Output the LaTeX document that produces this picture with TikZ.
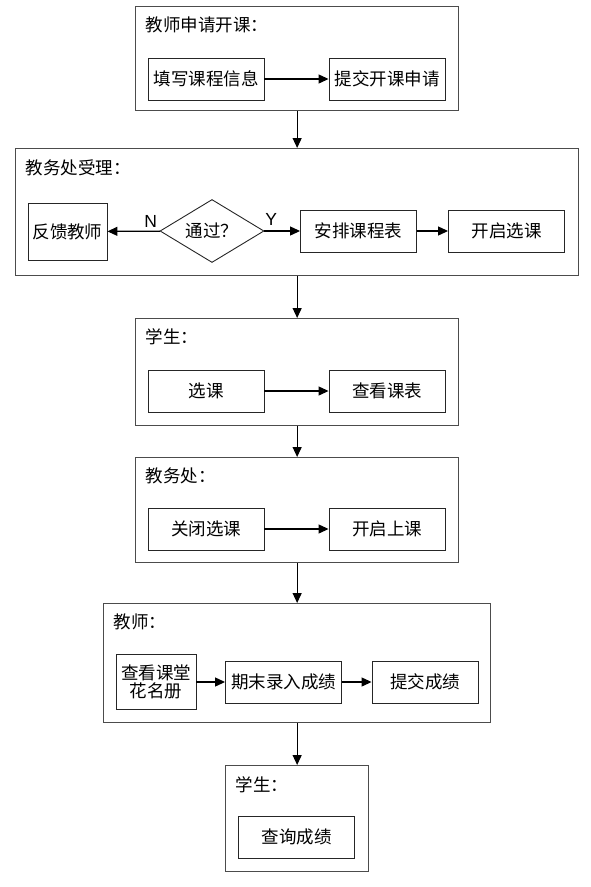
\documentclass[tikz,border=0pt]{standalone}
\usepackage{fontspec}
\setmainfont{Noto Sans CJK SC}
\newfontfamily\latinfont{Liberation Sans}
\usetikzlibrary{arrows.meta,shapes.geometric,positioning}
\tikzset{every picture/.style={>={Triangle[length=10pt,width=9pt]},line width=1.2pt}}
\tikzstyle{stage} =
  [ rectangle
  , draw=black!70
  , line width=1.3pt
  , anchor=north west
  , inner sep=0pt
  ]
\tikzstyle{stage_title} =
  [ anchor=west
  , inner sep=0pt
  ]
\tikzstyle{task} =
  [ rectangle
  , draw=black!85
  , line width=0.9pt
  , minimum width=116pt
  , minimum height=42pt
  , inner sep=0pt
  ]
\tikzstyle{decision} =
  [ diamond
  , draw=black!85
  , line width=0.9pt
  , minimum width=104pt
  , minimum height=63pt
  , inner sep=0pt
  ]

\begin{document}
\begin{tikzpicture}[x=1pt,y=-1pt,font=\fontsize{17.5}{21}\selectfont]
    \useasboundingbox (0,0) rectangle (590,887);

    % teacher applies for a course
    \node[stage,minimum width=323pt,minimum height=104pt] (teacher_apply) at (135,6) {};
    \node[stage_title] (teacher_apply_title) at (145,25) {教师申请开课：};
    \node[task] (fill_info)   at (206,79) {填写课程信息};
    \node[task] (submit_info) at (387,79) {提交开课申请};
    \draw[->] (fill_info) -- (submit_info);

    % office handles it
    \node[stage,minimum width=563pt,minimum height=127pt] (office_check) at (15,148) {};
    \node[stage_title] (office_check_title) at (25,168) {教务处受理：};
    \node[task,minimum width=79pt,minimum height=57pt] (feedback) at (67.5,231.5) {反馈教师};
    \node[decision,aspect=1.65] (passed) at (212,231) {通过？};
    \node[task] (schedule)     at (358.5,231) {安排课程表};
    \node[task] (open_select)  at (506.5,231) {开启选课};
    \draw[->] (passed) -- node[above left=0pt and -1pt,pos=0] {\latinfont N} (feedback);
    \draw[->] (passed) -- node[above right=2pt and -3pt,pos=0] {\latinfont Y} (schedule);
    \draw[->] (schedule) -- (open_select);

    % students choose
    \node[stage,minimum width=323pt,minimum height=107pt] (student_select) at (135,318) {};
    \node[stage_title] (student_select_title) at (145,337) {学生：};
    \node[task] (select)      at (206,391) {选课};
    \node[task] (view_table)  at (387,391) {查看课表};
    \draw[->] (select) -- (view_table);

    % office closes selection
    \node[stage,minimum width=323pt,minimum height=105pt] (office_close) at (135,457) {};
    \node[stage_title] (office_close_title) at (145,476) {教务处：};
    \node[task] (close_select) at (206,529) {关闭选课};
    \node[task] (start_class)  at (387,529) {开启上课};
    \draw[->] (close_select) -- (start_class);

    % teacher grades
    \node[stage,minimum width=387pt,minimum height=119pt] (teacher_grade) at (103,603) {};
    \node[stage_title] (teacher_grade_title) at (113,622) {教师：};
    \node[task,minimum width=80pt,minimum height=55pt,align=center] (roster) at (156,682) {查看课堂\\[-3pt]花名册};
    \node[task] (enter_grade)  at (283.5,682) {期末录入成绩};
    \node[task,minimum width=106pt] (submit_grade) at (425,682) {提交成绩};
    \draw[->] (roster) -- (enter_grade);
    \draw[->] (enter_grade) -- (submit_grade);

    % students query
    \node[stage,minimum width=143pt,minimum height=106pt] (student_query) at (225,765) {};
    \node[stage_title] (student_query_title) at (235,785) {学生：};
    \node[task] (query_grade) at (296.5,837) {查询成绩};

    % flow between stages
    \draw[->] (teacher_apply.south)  -- (office_check.north);
    \draw[->] (office_check.south)   -- (student_select.north);
    \draw[->] (student_select.south) -- (office_close.north);
    \draw[->] (office_close.south)   -- (teacher_grade.north);
    \draw[->] (teacher_grade.south)  -- (student_query.north);
\end{tikzpicture}
\end{document}
